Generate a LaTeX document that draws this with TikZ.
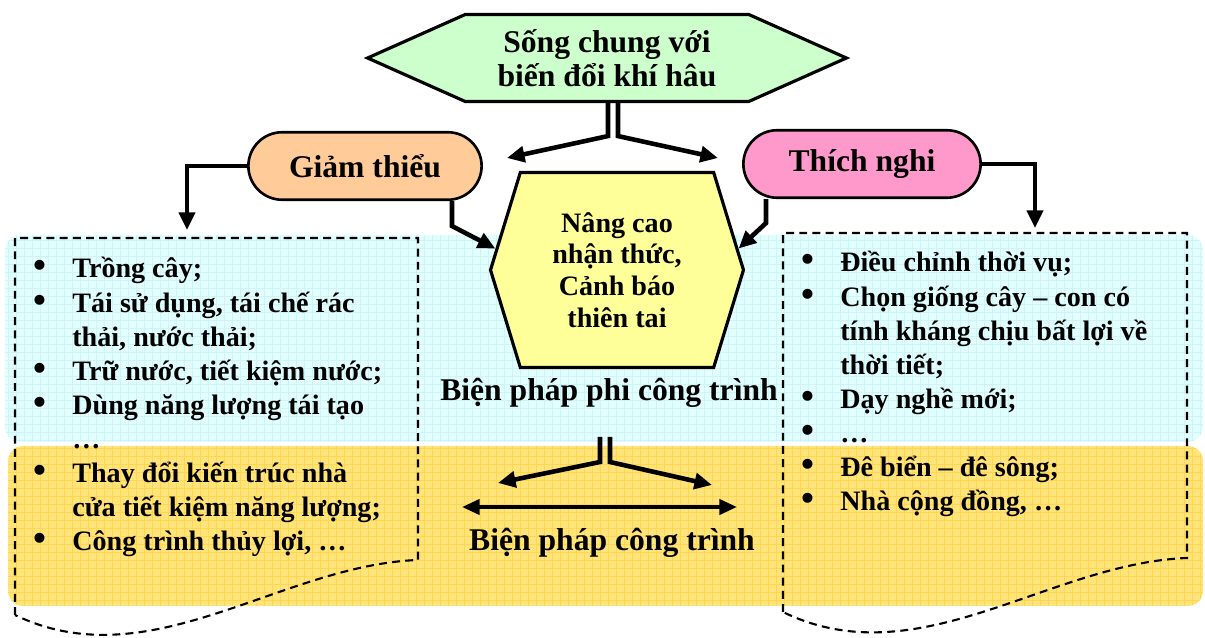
\documentclass[tikz,border=0pt]{standalone}
\usepackage{fontspec}
\setmainfont{Liberation Serif}
\usetikzlibrary{calc,positioning,arrows.meta,shapes.misc,shapes.symbols}
\definecolor{topgreen}{HTML}{CCFFCC}
\definecolor{peach}{HTML}{FFCC99}
\definecolor{pinkish}{HTML}{FF99CC}
\definecolor{hexyellow}{HTML}{FFFF99}
\definecolor{bandcyan}{HTML}{E2FFFF}
\definecolor{gridcyan}{HTML}{D0F3F6}
\definecolor{bandyellow}{HTML}{FFE47C}
\definecolor{gridyellow}{HTML}{FFD650}

\begin{document}
\begin{tikzpicture}[x=0.02cm,y=-0.02cm]
    \tikzstyle{every node}=[font=\bfseries]
    \tikzstyle{big}=[font=\fontsize{18}{19.3}\selectfont\bfseries, align=center]
    \tikzstyle{lst}=[font=\fontsize{16}{19}\selectfont\bfseries, anchor=base west, inner sep=0pt]
    \tikzstyle{dot}=[font=\fontsize{21}{19}\selectfont\bfseries, anchor=base, inner sep=0pt]
    \tikzstyle{pill}=[big, rounded rectangle, draw, line width=1.5pt,
                      minimum height=1.35cm]
    \tikzstyle{conn}=[line width=2.6pt, -{Triangle[length=10pt,width=9pt]}]
    \tikzstyle{cut}=[line width=1.2pt, dash pattern=on 4.5pt off 3pt]

    \useasboundingbox (0,0) rectangle (1205,638);
    \clip (0,0) rectangle (1205,638);

    % the two coloured bands, with their fine grid
    \path [fill=bandcyan, rounded corners=0.3cm] (5,235) rectangle (1203,442);
    \begin{scope}
    \clip [rounded corners=0.3cm] (5,235) rectangle (1203,442);
    \draw [gridcyan, line width=0.3pt, step=0.16cm] (5,235) grid (1203,442);
    \end{scope}
    \path [fill=bandyellow, rounded corners=0.3cm] (8,446) rectangle (1203,606);
    \begin{scope}
    \clip [rounded corners=0.3cm] (8,446) rectangle (1203,606);
    \draw [gridyellow, line width=0.3pt, step=0.16cm] (8,446) grid (1203,606);
    \end{scope}

    % dashed boxes with a wavy bottom
    \draw [cut] (15,615) -- (15,238) -- (418,238) -- (418,560)
        .. controls (280,565) and (150,680) .. (15,615);
    \draw [cut] (783,612) -- (783,233) -- (1187,233) -- (1187,558)
        .. controls (1049,563) and (918,678) .. (783,612);

    % the boxes
    \node [big, signal, signal to=east and west, signal pointer angle=48,
           draw, line width=1.8pt, fill=topgreen,
           minimum width=9.58cm, minimum height=1.74cm] (song) at (607,58)
          {Sống chung với\\biến đổi khí hâu};
    \node [pill, fill=peach, minimum width=4.9cm] (gt) at (365,166) {Giảm thiểu};
    \node [pill, fill=pinkish, minimum width=4.98cm] (tn) at (862,164) {Thích nghi};
    \node [signal, signal to=east and west, signal pointer angle=146,
           draw, line width=1.8pt, fill=hexyellow, align=center,
           font=\fontsize{16}{18.1}\selectfont\bfseries,
           minimum width=5.06cm, minimum height=3.9cm] (nang) at (617,270)
          {Nâng cao\\nhận thức,\\Cảnh báo\\thiên tai};
    \node [big] (bppct) at (609,393) {Biện pháp phi công trình};
    \node [big] (bpct) at (612,543) {Biện pháp công trình};

    \coordinate (sA) at (507,158);
    \coordinate (sB) at (718,158);
    \coordinate (lbox) at (187,230);
    \coordinate (rbox) at (1035,228);
    \coordinate (fork) at (605,437);
    \coordinate (fL) at (498,483);
    \coordinate (fR) at (712,485);
    \coordinate (cL) at (462,507);
    \coordinate (cR) at (737,507);

    % arrows
    \draw [conn] ($(song.south)+(1,0)$) -- ++(0,33) -- (sA);
    \draw [conn] ($(song.south)+(11,0)$) -- ++(0,33) -- (sB);
    \draw [conn] (gt.west) -| (lbox);
    \draw [conn] (tn.east) -| (rbox);
    \draw [conn] ($(gt.south)+(87,0)$) -- ++(0,25) -- (nang.170);
    \draw [conn] ($(tn.south)+(-96,0)$) -- ++(0,24) -- (nang.10);
    \draw [conn] ($(fork)+(-5,0)$) -- ++(0,25) -- (fL);
    \draw [conn] ($(fork)+(5,0)$) -- ++(0,25) -- (fR);
    \draw [line width=2.3pt, {Triangle[length=10pt,width=8.5pt]}-{Triangle[length=10pt,width=8.5pt]}]
        (cL) -- (cR);

    % left list
    \foreach \t [count=\i] in {{Trồng cây;},{Tái sử dụng, tái chế rác},
        {thải, nước thải;},{Trữ nước, tiết kiệm nước;},{Dùng năng lượng tái tạo},
        {…},{Thay đổi kiến trúc nhà},{cửa tiết kiệm năng lượng;},
        {Công trình thủy lợi, …}}
      \node [lst] (gl\i) at (72,{278+34.1*(\i-1)}) {\t};
    \foreach \i in {1,2,4,5,7,9}
      \node [dot] (gb\i) at (40,{278+34.1*(\i-1)}) {\textbullet};

    % right list
    \foreach \t [count=\i] in {{Điều chỉnh thời vụ;},{Chọn giống cây – con có},
        {tính kháng chịu bất lợi về},{thời tiết;},{Dạy nghề mới;},{…},
        {Đê biển – đê sông;},{Nhà cộng đồng, …}}
      \node [lst] (tl\i) at (840,{272+34.1*(\i-1)}) {\t};
    \foreach \i in {1,2,5,6,7,8}
      \node [dot] (tb\i) at (808,{272+34.1*(\i-1)}) {\textbullet};
\end{tikzpicture}
\end{document}
